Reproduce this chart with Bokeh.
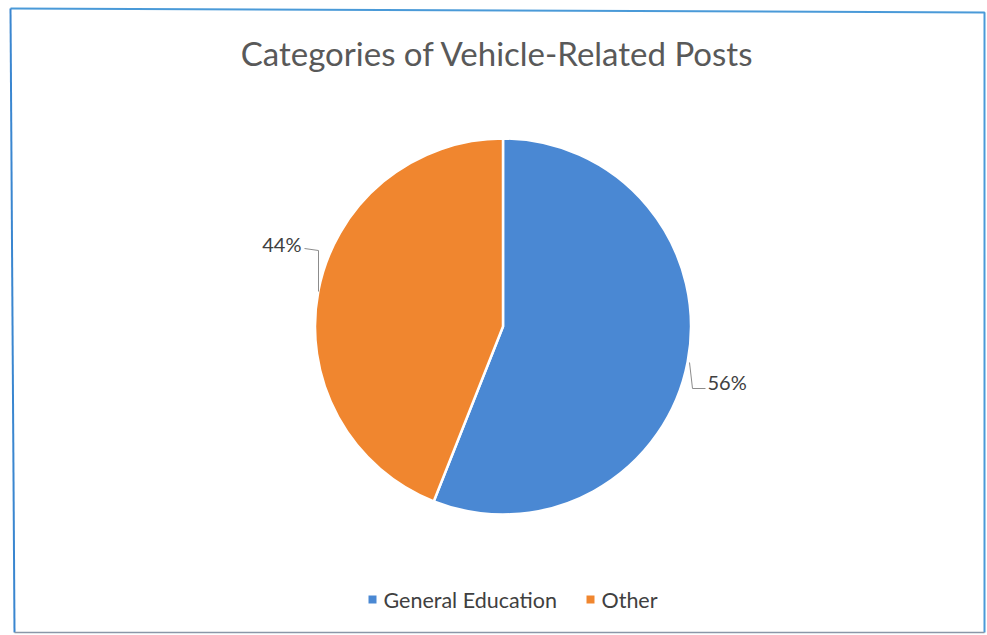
import numpy as np
from bokeh.plotting import figure
from bokeh.models import Range1d
from bokeh.core.properties import value
from bokeh.embed import file_html
from bokeh.resources import INLINE

# ---- data ----
categories = ["General Education", "Other"]
shares = [56, 44]
colors = ["#4A88D3", "#F0862F"]
title_text = "Categories of Vehicle-Related Posts"

W, H = 987, 635
p = figure(width=W, height=H, output_backend="svg", toolbar_location=None,
           x_range=Range1d(0, W), y_range=Range1d(H, 0), min_border=0)
p.axis.visible = False
p.grid.visible = False
p.outline_line_color = None
p.background_fill_color = "white"
p.border_fill_color = "white"

FONT = value("Lato")

# chart border
p.line([10, 984, 984], [8, 12, 632], line_color="#4A9AD8", line_width=2)
p.line([10, 14], [8, 632], line_color="#3A86D0", line_width=2)
p.line([14, 984], [632, 632], line_color="#8A97A8", line_width=1.5)

# title
p.text([497], [52], text=[title_text], text_font=FONT, text_font_size="33px",
       text_color="#595959", text_align="center", text_baseline="middle")

# pie: first slice starts at 12 o'clock and runs clockwise
cx, cy, r = 502.5, 326, 188
total = float(sum(shares))
fr = np.array(shares) / total
cum_end = np.cumsum(fr) * 2 * np.pi
cum_start = cum_end - fr * 2 * np.pi
start_a = np.pi / 2 - cum_end
end_a = np.pi / 2 - cum_start
p.wedge(x=cx, y=cy, radius=r, start_angle=list(start_a), end_angle=list(end_a),
        fill_color=colors, line_color="white", line_width=2.5)

# data labels with leader lines
labels = [f"{s}%" for s in shares]
p.line([689, 692, 705], [362, 388, 388], line_color="#8C8C8C", line_width=1)
p.text([707], [381], text=[labels[0]], text_font=FONT, text_font_size="20px",
       text_color="#404040", text_align="left", text_baseline="middle")
p.line([304, 318, 318], [248, 250, 291], line_color="#8C8C8C", line_width=1)
p.text([301], [243], text=[labels[1]], text_font=FONT, text_font_size="20px",
       text_color="#404040", text_align="right", text_baseline="middle")

# legend
lx = [372, 590]
p.rect(x=lx, y=[599, 599], width=8, height=8, fill_color=colors, line_color=None)
p.text([x + 11 for x in lx], [599, 599], text=categories, text_font=FONT,
       text_font_size="21.5px", text_color="#404040", text_align="left",
       text_baseline="middle")

open("out.html", "w").write(file_html(p, INLINE))
